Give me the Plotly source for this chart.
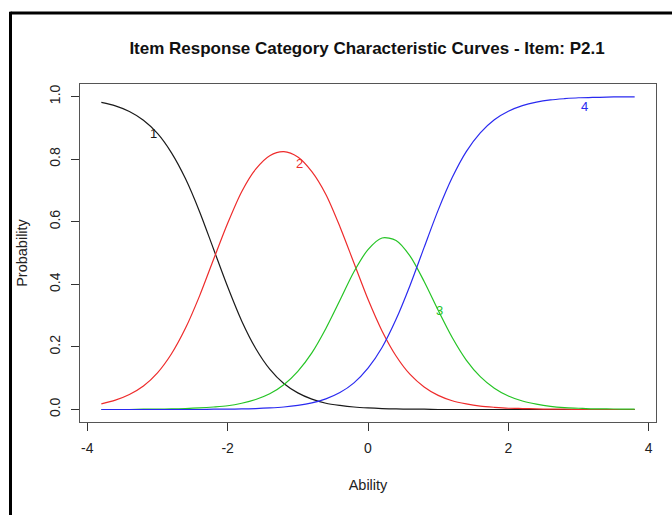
import plotly.graph_objects as go

# Ability grid (theta) and category response probabilities for item P2.1
theta = [-3.8, -3.6, -3.4, -3.2, -3.0, -2.8, -2.6, -2.4, -2.2, -2.0,
         -1.8, -1.6, -1.4, -1.2, -1.0, -0.8, -0.6, -0.4, -0.2, 0.0,
         0.2, 0.4, 0.6, 0.8, 1.0, 1.2, 1.4, 1.6, 1.8, 2.0,
         2.2, 2.4, 2.6, 2.8, 3.0, 3.2, 3.4, 3.6, 3.8]

cat1 = [0.981, 0.970, 0.952, 0.924, 0.882, 0.820, 0.737, 0.632, 0.512, 0.392,
        0.283, 0.195, 0.129, 0.083, 0.053, 0.033, 0.020, 0.013, 0.008, 0.005,
        0.003, 0.002, 0.001, 0.001, 0.000, 0.000, 0.000, 0.000, 0.000, 0.000,
        0.000, 0.000, 0.000, 0.000, 0.000, 0.000, 0.000, 0.000, 0.000]

cat2 = [0.018, 0.030, 0.048, 0.075, 0.117, 0.178, 0.260, 0.363, 0.480, 0.595,
        0.696, 0.768, 0.811, 0.824, 0.807, 0.760, 0.687, 0.584, 0.468, 0.352,
        0.251, 0.171, 0.112, 0.072, 0.045, 0.028, 0.018, 0.011, 0.007, 0.004,
        0.003, 0.002, 0.001, 0.001, 0.000, 0.000, 0.000, 0.000, 0.000]

cat3 = [0.000, 0.000, 0.000, 0.001, 0.001, 0.002, 0.003, 0.005, 0.008, 0.012,
        0.020, 0.032, 0.050, 0.079, 0.122, 0.181, 0.259, 0.349, 0.440, 0.511,
        0.548, 0.540, 0.490, 0.409, 0.317, 0.230, 0.158, 0.105, 0.068, 0.043,
        0.027, 0.017, 0.010, 0.006, 0.004, 0.002, 0.002, 0.001, 0.001]

cat4 = [0.000, 0.000, 0.000, 0.000, 0.000, 0.000, 0.000, 0.000, 0.001, 0.001,
        0.002, 0.003, 0.005, 0.008, 0.013, 0.021, 0.034, 0.054, 0.085, 0.132,
        0.198, 0.288, 0.397, 0.518, 0.637, 0.741, 0.824, 0.884, 0.926, 0.953,
        0.971, 0.982, 0.989, 0.993, 0.996, 0.997, 0.998, 0.999, 0.999]

categories = ["1", "2", "3", "4"]
series = [cat1, cat2, cat3, cat4]
colors = ["#1a1a1a", "#ee2b2b", "#25c425", "#2a2af0"]

# where each category number is written on the chart (ability, probability)
label_theta = [-3.06, -0.98, 1.02, 3.09]
label_prob = [0.883, 0.787, 0.315, 0.968]

x_ticks = [-4, -2, 0, 2, 4]
y_ticks = [0.0, 0.2, 0.4, 0.6, 0.8, 1.0]

W, H = 672, 515
L, R, T, B = 80, 16, 84, 93
FONT = "Liberation Sans, Arial, Helvetica, sans-serif"


def px_to_paper_x(px):
    return (px - L) / (W - L - R)


def px_to_paper_y(py):
    return (H - B - py) / (H - T - B)


fig = go.Figure()
for name, vals, col in zip(categories, series, colors):
    fig.add_trace(go.Scatter(
        x=theta, y=vals, mode="lines", name=name,
        line=dict(color=col, width=1.2, shape="spline", smoothing=0.8),
        showlegend=False, hoverinfo="x+y",
    ))

for name, tx, ty, col in zip(categories, label_theta, label_prob, colors):
    fig.add_annotation(x=tx, y=ty, text=name, showarrow=False,
                       font=dict(family=FONT, size=13, color=col),
                       xanchor="center", yanchor="middle")

# outer frame: left and top edges of the surrounding panel
frame_x = px_to_paper_x(10.5)
frame_y = px_to_paper_y(13)
fig.add_shape(type="line", xref="paper", yref="paper",
              x0=frame_x, x1=frame_x, y0=frame_y + 0.004, y1=px_to_paper_y(530),
              line=dict(color="black", width=3))
fig.add_shape(type="line", xref="paper", yref="paper",
              x0=frame_x, x1=px_to_paper_x(690), y0=frame_y, y1=frame_y,
              line=dict(color="black", width=3))

axis_common = dict(
    showgrid=False, zeroline=False,
    showline=True, mirror=True, linecolor="#555555", linewidth=1.2,
    ticks="outside", ticklen=8, tickcolor="#333333", tickwidth=1,
    tickfont=dict(family=FONT, size=14, color="#222222"),
)

fig.update_layout(
    width=W, height=H,
    margin=dict(l=L, r=R, t=T, b=B),
    paper_bgcolor="white", plot_bgcolor="white",
    title=dict(text="<b>Item Response Category Characteristic Curves - Item: P2.1</b>",
               x=px_to_paper_x(367), xref="paper", xanchor="center",
               y=1 - 48 / H, yref="container", yanchor="middle",
               font=dict(family=FONT, size=17, color="#111111")),
    xaxis=dict(range=[-4.104, 4.104], tickvals=x_ticks,
               ticktext=[str(v) for v in x_ticks], ticklabelstandoff=5,
               title=dict(text="Ability", standoff=24,
                          font=dict(family=FONT, size=14.5, color="#222222")),
               **axis_common),
    yaxis=dict(range=[-0.04, 1.04], tickvals=y_ticks,
               ticktext=[f"{v:.1f}" for v in y_ticks], tickangle=-90,
               ticklabelstandoff=5,
               title=dict(text="Probability", standoff=16,
                          font=dict(family=FONT, size=14.5, color="#222222")),
               **axis_common),
)

fig.write_html("out.html")
